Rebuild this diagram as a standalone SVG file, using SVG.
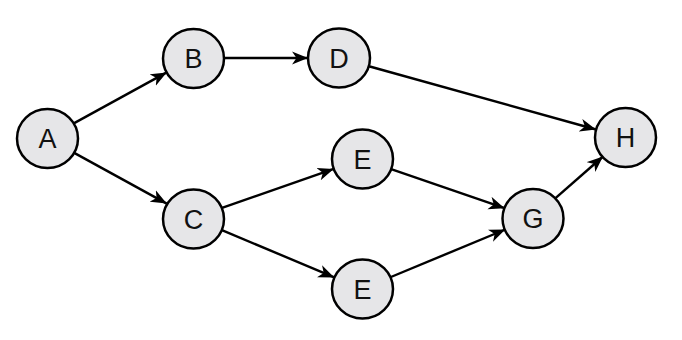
<svg xmlns="http://www.w3.org/2000/svg" width="682" height="340" viewBox="0 0 682 340">
<style>
.node ellipse{fill:#e6e6e8;stroke:#000;stroke-width:2.5}
.node text{font-family:"Liberation Sans",Arial,sans-serif;font-size:27px;fill:#111;text-anchor:middle;dominant-baseline:central}
.edge line{stroke:#000;stroke-width:2.4;marker-end:url(#arr)}
</style>
<defs>
<marker id="arr" markerUnits="userSpaceOnUse" markerWidth="18" markerHeight="14" refX="16" refY="7" orient="auto">
<path d="M0,0.5 L16,7 L0,13.5 L4.5,7 z" fill="#000"/>
</marker>
</defs>
<g id="connectors" class="edge">
<line x1="73.3" y1="123.6" x2="166.7" y2="72.4"/>
<line x1="223" y1="58" x2="308" y2="58"/>
<line x1="368" y1="66" x2="596" y2="129.5"/>
<line x1="73.3" y1="152.4" x2="166.7" y2="203.6"/>
<line x1="221.3" y1="208.1" x2="333.7" y2="168.9"/>
<line x1="220.7" y1="229.6" x2="334.3" y2="277.4"/>
<line x1="390.4" y1="168.8" x2="504.6" y2="208.2"/>
<line x1="389.7" y1="277.5" x2="505.3" y2="229.5"/>
<line x1="555.5" y1="198.2" x2="603" y2="156.5"/>
</g>
<g id="node-A" class="node"><ellipse cx="47.5" cy="138.5" rx="30.5" ry="29.5"/><text x="47.5" y="139">A</text></g>
<g id="node-B" class="node"><ellipse cx="193.5" cy="58.5" rx="30.5" ry="29.5"/><text x="193.5" y="59">B</text></g>
<g id="node-D" class="node"><ellipse cx="339" cy="58" rx="31" ry="29.5"/><text x="339" y="58.5">D</text></g>
<g id="node-C" class="node"><ellipse cx="193.5" cy="219" rx="30.5" ry="29.5"/><text x="193.5" y="219.5">C</text></g>
<g id="node-E1" class="node"><ellipse cx="362.5" cy="159" rx="30.5" ry="29.5"/><text x="362.5" y="159.5">E</text></g>
<g id="node-E2" class="node"><ellipse cx="362.5" cy="289" rx="30.5" ry="29.5"/><text x="362.5" y="289.5">E</text></g>
<g id="node-G" class="node"><ellipse cx="533" cy="218.5" rx="30.5" ry="29.5"/><text x="533" y="219">G</text></g>
<g id="node-H" class="node"><ellipse cx="625.5" cy="137.5" rx="30.5" ry="29.5"/><text x="625.5" y="138">H</text></g>
</svg>
